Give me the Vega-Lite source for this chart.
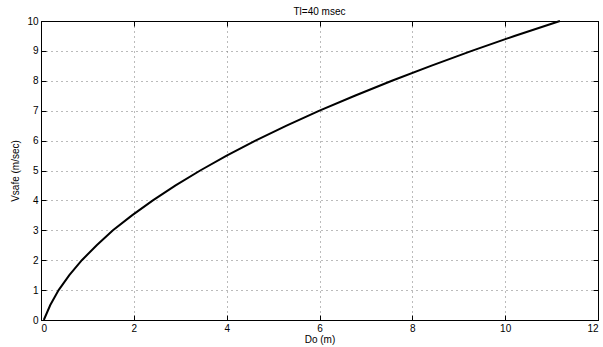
{
  "$schema": "https://vega.github.io/schema/vega-lite/v6.json",
  "width": 557,
  "height": 299,
  "autosize": {"type": "none"},
  "padding": {"left": 41, "top": 21, "right": 5, "bottom": 27},
  "background": "white",
  "title": {"text": "Tl=40 msec", "fontSize": 10, "fontWeight": "normal", "font": "Liberation Sans", "offset": -1, "color": "black"},
  "data": {"values": [
    {"V": 0, "D": 0.06}, {"V": 0.5, "D": 0.2}, {"V": 1, "D": 0.38}, {"V": 1.5, "D": 0.61},
    {"V": 2, "D": 0.88}, {"V": 2.5, "D": 1.2}, {"V": 3, "D": 1.55}, {"V": 3.5, "D": 1.96},
    {"V": 4, "D": 2.41}, {"V": 4.5, "D": 2.9}, {"V": 5, "D": 3.43}, {"V": 5.5, "D": 4.0},
    {"V": 6, "D": 4.62}, {"V": 6.5, "D": 5.29}, {"V": 7, "D": 6.0}, {"V": 7.5, "D": 6.76},
    {"V": 8, "D": 7.56}, {"V": 8.5, "D": 8.4}, {"V": 9, "D": 9.28}, {"V": 9.5, "D": 10.2},
    {"V": 10, "D": 11.18}
  ]},
  "config": {
    "view": {"stroke": "black", "strokeWidth": 1},
    "axis": {
      "labelFont": "Liberation Sans", "titleFont": "Liberation Sans",
      "labelFontSize": 10, "titleFontSize": 10, "titleFontWeight": "normal",
      "labelColor": "black", "titleColor": "black",
      "domainColor": "black", "tickColor": "black", "tickSize": -5,
      "gridColor": "#777777", "gridDash": [1, 4], "gridOpacity": 1, "gridWidth": 1
    }
  },
  "resolve": {"axis": {"x": "independent", "y": "independent"}},
  "layer": [
    {
      "mark": {"type": "line", "color": "black", "strokeWidth": 2},
      "encoding": {
        "x": {"field": "D", "type": "quantitative", "scale": {"domain": [0, 12], "nice": false},
              "axis": {"orient": "bottom", "values": [0,2,4,6,8,10,12], "title": "Do (m)", "titlePadding": 1, "labelPadding": 8, "grid": true}},
        "y": {"field": "V", "type": "quantitative", "scale": {"domain": [0, 10], "nice": false},
              "axis": {"orient": "left", "values": [0,1,2,3,4,5,6,7,8,9,10], "title": "Vsafe (m/sec)", "titlePadding": 6, "labelPadding": 8, "grid": true}},
        "order": {"field": "V", "type": "quantitative"}
      }
    },
    {
      "mark": {"type": "line", "color": "black", "strokeWidth": 2, "opacity": 0},
      "encoding": {
        "x": {"field": "D", "type": "quantitative", "scale": {"domain": [0, 12], "nice": false},
              "axis": {"orient": "top", "values": [0,2,4,6,8,10,12], "labels": false, "title": null, "grid": false}},
        "y": {"field": "V", "type": "quantitative", "scale": {"domain": [0, 10], "nice": false},
              "axis": {"orient": "right", "values": [0,1,2,3,4,5,6,7,8,9,10], "labels": false, "title": null, "grid": false}},
        "order": {"field": "V", "type": "quantitative"}
      }
    }
  ]
}
